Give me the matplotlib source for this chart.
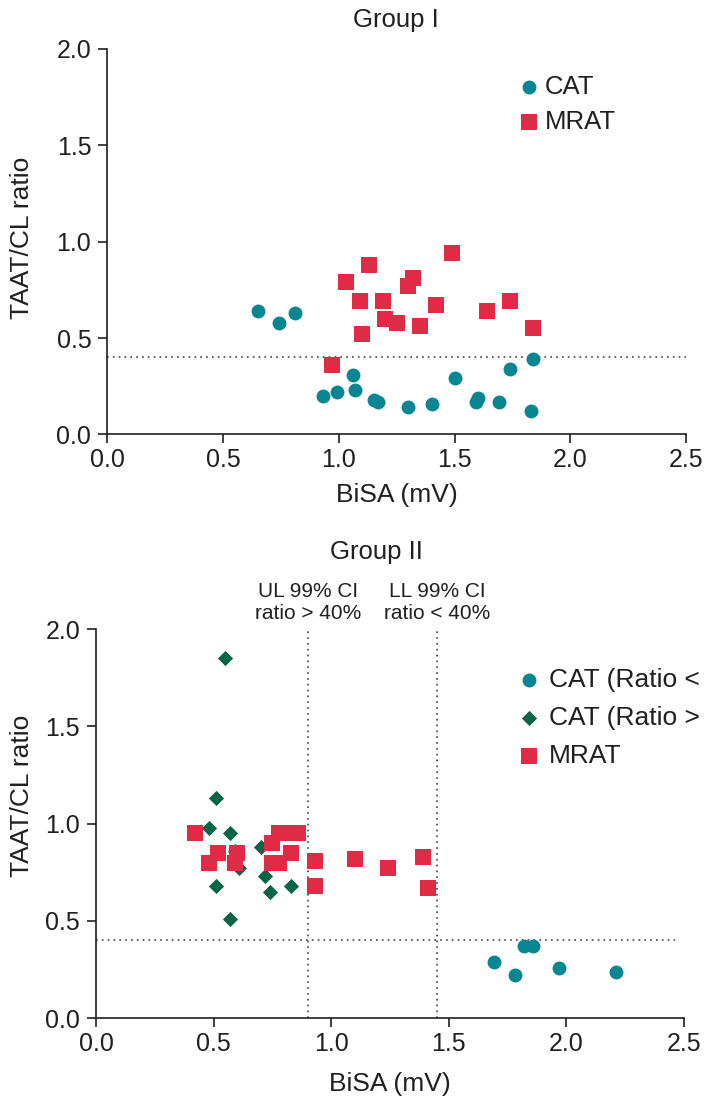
import matplotlib
matplotlib.use("Agg")
import matplotlib.pyplot as plt
from matplotlib import ticker

# Group I
g1_cat_bisa = [0.65, 0.74, 0.81, 0.93, 0.99, 1.06, 1.07, 1.15, 1.17, 1.30, 1.40, 1.50,
               1.59, 1.60, 1.69, 1.74, 1.84, 1.83]
g1_cat_ratio = [0.64, 0.58, 0.63, 0.20, 0.22, 0.31, 0.23, 0.18, 0.17, 0.14, 0.16, 0.29,
                0.17, 0.19, 0.17, 0.34, 0.39, 0.12]
g1_mrat_bisa = [0.97, 1.03, 1.13, 1.09, 1.19, 1.10, 1.20, 1.25, 1.30, 1.32, 1.35, 1.42,
                1.49, 1.64, 1.74, 1.84]
g1_mrat_ratio = [0.36, 0.79, 0.88, 0.69, 0.69, 0.52, 0.60, 0.58, 0.77, 0.81, 0.56, 0.67,
                 0.94, 0.64, 0.69, 0.55]

# Group II
g2_cat_low_bisa = [1.69, 1.78, 1.82, 1.86, 1.97, 2.21]
g2_cat_low_ratio = [0.29, 0.22, 0.37, 0.37, 0.26, 0.24]
g2_cat_high_bisa = [0.55, 0.51, 0.48, 0.57, 0.59, 0.70, 0.61, 0.72, 0.51, 0.74, 0.83, 0.57]
g2_cat_high_ratio = [1.85, 1.13, 0.98, 0.95, 0.86, 0.88, 0.77, 0.73, 0.68, 0.65, 0.68, 0.51]
g2_mrat_bisa = [0.42, 0.52, 0.60, 0.48, 0.59, 0.75, 0.78, 0.82, 0.86, 0.75, 0.78, 0.83,
                0.93, 0.93, 1.10, 1.24, 1.39, 1.41]
g2_mrat_ratio = [0.95, 0.85, 0.85, 0.80, 0.80, 0.90, 0.95, 0.95, 0.95, 0.80, 0.80, 0.85,
                 0.81, 0.68, 0.82, 0.77, 0.83, 0.67]

cutoff = 0.4
ci_limits = [0.9, 1.45]
ci_labels = ["UL 99% CI\nratio > 40%", "LL 99% CI\nratio < 40%"]
g2_legend = ["CAT (Ratio <", "CAT (Ratio >", "MRAT"]

TEAL = "#0a8592"
RED = "#e12a46"
GREEN = "#0b6445"
INK = "#231f20"
DOTS = "#444444"

plt.rcParams["font.family"] = ["Liberation Sans", "DejaVu Sans"]
plt.rcParams["text.color"] = INK
plt.rcParams["axes.labelcolor"] = INK
plt.rcParams["xtick.color"] = INK
plt.rcParams["ytick.color"] = INK

fig = plt.figure(figsize=(7.07, 11.01), dpi=100)


def style_axes(ax, xlabel_y, ylabel_x, ylabel_y):
    ax.set_xlim(0, 2.5)
    ax.set_ylim(0, 2.0)
    ax.set_xticks([0.0, 0.5, 1.0, 1.5, 2.0, 2.5])
    ax.set_yticks([0.0, 0.5, 1.0, 1.5, 2.0])
    ax.xaxis.set_major_formatter(ticker.FormatStrFormatter("%.1f"))
    ax.yaxis.set_major_formatter(ticker.FormatStrFormatter("%.1f"))
    for side in ["top", "right"]:
        ax.spines[side].set_visible(False)
    for side in ["left", "bottom"]:
        ax.spines[side].set_linewidth(1.2)
        ax.spines[side].set_color(INK)
    ax.tick_params(direction="out", length=6.5, width=1.2, labelsize=18)
    ax.tick_params(axis="x", pad=3)
    ax.tick_params(axis="y", pad=5)
    ax.set_xlabel("BiSA (mV)", fontsize=19, va="center")
    ax.set_ylabel("TAAT/CL ratio", fontsize=19, va="center")
    ax.xaxis.set_label_coords(0.5, xlabel_y)
    ax.yaxis.set_label_coords(ylabel_x, ylabel_y)


# top panel
ax1 = fig.add_axes([0.1518, 0.6055, 0.8189, 0.35])
ax1.axhline(cutoff, color=DOTS, lw=1.2, ls=(0, (1, 2.5)), zorder=1)
ax1.scatter(g1_cat_bisa, g1_cat_ratio, s=100, marker="o", color=TEAL, lw=0,
            label="CAT", zorder=3)
ax1.scatter(g1_mrat_bisa, g1_mrat_ratio, s=120, marker="s", color=RED, lw=0,
            label="MRAT", zorder=3)
style_axes(ax1, -0.1575, -0.147, 0.511)
fig.text(396 / 707, 1 - 20 / 1101, "Group I", ha="center", va="center", fontsize=18.5)
ax1.legend(loc="upper left", bbox_to_anchor=(0.706, 0.9325), frameon=False,
           fontsize=18.5, handlelength=1.0, handletextpad=0.13, labelspacing=0.41,
           borderpad=0, borderaxespad=0, scatterpoints=1)

# bottom panel
ax2 = fig.add_axes([0.1358, 0.0751, 0.8317, 0.3536])
ax2.hlines(cutoff, 0, 2.47, color=DOTS, lw=1.2, ls=(0, (1, 2.5)), zorder=1)
for xv in ci_limits:
    ax2.axvline(xv, color=DOTS, lw=1.2, ls=(0, (1, 2.5)), zorder=1)
ax2.scatter(g2_cat_low_bisa, g2_cat_low_ratio, s=100, marker="o", color=TEAL, lw=0,
            label=g2_legend[0], zorder=3)
ax2.scatter(g2_cat_high_bisa, g2_cat_high_ratio, s=60, marker="D", color=GREEN, lw=0,
            label=g2_legend[1], zorder=3)
ax2.scatter(g2_mrat_bisa, g2_mrat_ratio, s=120, marker="s", color=RED, lw=0,
            label=g2_legend[2], zorder=4)
style_axes(ax2, -0.169, -0.126, 0.571)
fig.text(376 / 707, 1 - 551.5 / 1101, "Group II", ha="center", va="center", fontsize=18.5)
for xv, txt in zip(ci_limits, ci_labels):
    ax2.text(xv, 2.136, txt, ha="center", va="center", fontsize=15,
             linespacing=1.2, clip_on=False)
ax2.legend(loc="upper left", bbox_to_anchor=(0.714, 0.90), frameon=False,
           fontsize=19, handlelength=0.97, handletextpad=0.3, labelspacing=0.53,
           borderpad=0, borderaxespad=0, scatterpoints=1)

fig.savefig("out.png", dpi=100)
